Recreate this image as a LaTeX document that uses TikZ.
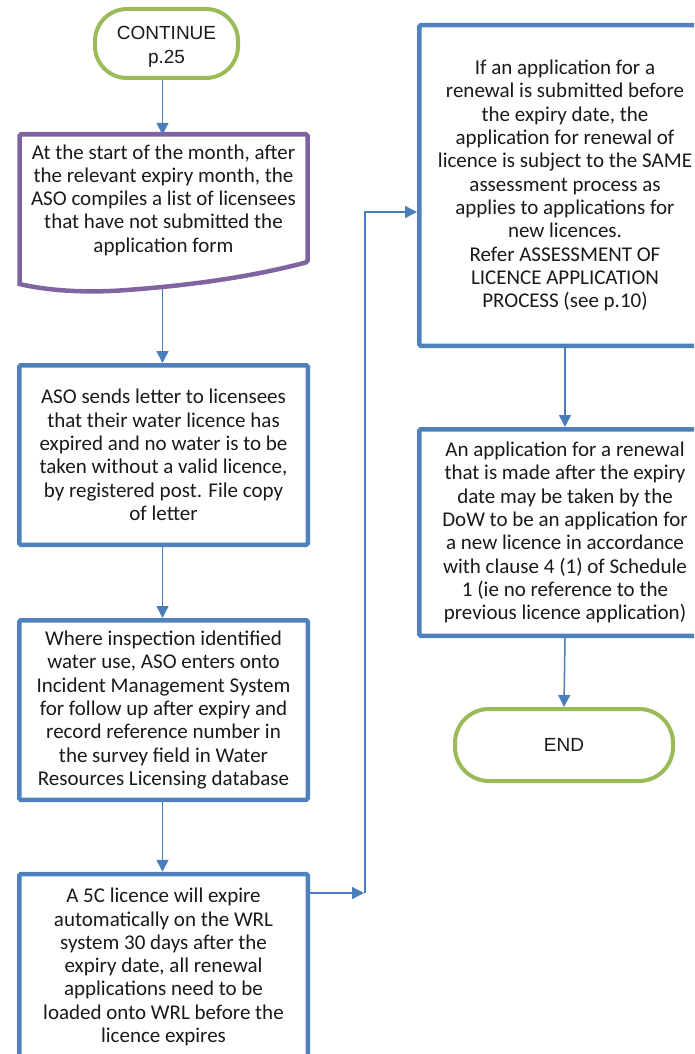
\documentclass[tikz,border=0pt]{standalone}
\usepackage{fontspec}
\setmainfont{Carlito}
\newfontfamily\termfont{Liberation Sans}
\usetikzlibrary{arrows.meta}
\definecolor{boxblue}{HTML}{4F81BD}
\definecolor{arrowblue}{HTML}{4A7EBB}
\definecolor{docpurple}{HTML}{8064A2}
\definecolor{termgreen}{HTML}{9BBB59}
\definecolor{ink}{HTML}{1A1A1A}
\tikzset{
  bodytext/.style={align=center, text=ink, inner sep=0pt,
    font=\fontsize{21}{23.3}\selectfont},
  stepbox/.style={bodytext, draw=boxblue, line width=4.5pt, rounded corners=1.5pt,
    fill=white, minimum width=288.5pt},
  terminal/.style={draw=termgreen, line width=4pt, rounded corners=32pt, fill=white,
    align=center, text=ink, inner sep=0pt, font=\termfont\fontsize{19}{24}\selectfont},
  arr/.style={draw=arrowblue, line width=1.5pt, -{Triangle[length=12pt,width=12pt]}},
}
\begin{document}
\begin{tikzpicture}[x=1pt,y=-1pt]
\useasboundingbox (0,0) rectangle (694,1054);
\clip (0,0) rectangle (694,1054);

% start terminal (outline) and its label
\node[terminal, minimum width=143pt, minimum height=69pt] (start) at (166.5,43.5) {};
\node[align=center, text=ink, inner sep=0pt, font=\termfont\fontsize{19}{24}\selectfont]
  (starttext) at (166.5,47) {CONTINUE\\p.25};

% document shape: text node plus wavy outline
\node[bodytext, minimum width=288.5pt, minimum height=130pt] (doc) at (163.5,200)
  {At the start of the month, after\\the relevant expiry month, the\\ASO compiles a list of licensees\\that have not submitted the\\application form};
\draw[docpurple, line width=4.5pt, rounded corners=1.5pt]
  (19.5,284) -- (19.5,134.25) -- (307.5,134.25) -- (307.5,262)
  [sharp corners] .. controls (240,280) and (170,287) .. (120,290.5)
  .. controls (80,293) and (45,290) .. (19.5,284) -- cycle;
\coordinate (docbot) at (162.5,289);

% left column
\node[stepbox, minimum height=179.5pt] (b2) at (163.5,455)
  {ASO sends letter to licensees\\that their water licence has\\expired and no water is to be\\taken without a valid licence,\\by registered post. File copy\\of letter};
\node[stepbox, minimum height=179.5pt] (b3) at (163.5,710)
  {Where inspection identified\\water use, ASO enters onto\\Incident Management System\\for follow up after expiry and\\record reference number in\\the survey field in Water\\Resources Licensing database};
\node[stepbox, minimum height=186pt] (b4) at (163.5,967)
  {A 5C licence will expire\\automatically on the WRL\\system 30 days after the\\expiry date, all renewal\\applications need to be\\loaded onto WRL before the\\licence expires};

% right column
\node[stepbox, minimum width=291.5pt, minimum height=320.5pt] (r1) at (565,185.5)
  {If an application for a\\renewal is submitted before\\the expiry date, the\\application for renewal of\\licence is subject to the SAME\\assessment process as\\applies to applications for\\new licences.\\Refer ASSESSMENT OF\\LICENCE APPLICATION\\PROCESS (see p.10)};
\node[stepbox, minimum width=291.5pt, minimum height=206.5pt] (r2) at (565,532.5)
  {An application for a renewal\\that is made after the expiry\\date may be taken by the\\DoW to be an application for\\a new licence in accordance\\with clause 4 (1) of Schedule\\1 (ie no reference to the\\previous licence application)};
\node[terminal, minimum width=218pt, minimum height=72pt, rounded corners=34pt] (end) at (564,745) {END};

% connectors
\draw[arr] (start.south -| docbot) -- (docbot |- doc.north);
\draw[arr] (docbot) -- (docbot |- b2.north);
\draw[arr] (b2.south -| docbot) -- (docbot |- b3.north);
\draw[arr] (b3.south -| docbot) -- (docbot |- b4.north);

\coordinate (j) at (364,893);
\coordinate (k) at (365,212);
\draw[arr] (b4.east |- j) -- (j);
\draw[arr] (j -| k) -- (k) -- (k -| r1.west);

\draw[arr] (r1.south) -- (r2.north);
\draw[arr] (r2.south) -- (end.north);
\end{tikzpicture}
\end{document}
